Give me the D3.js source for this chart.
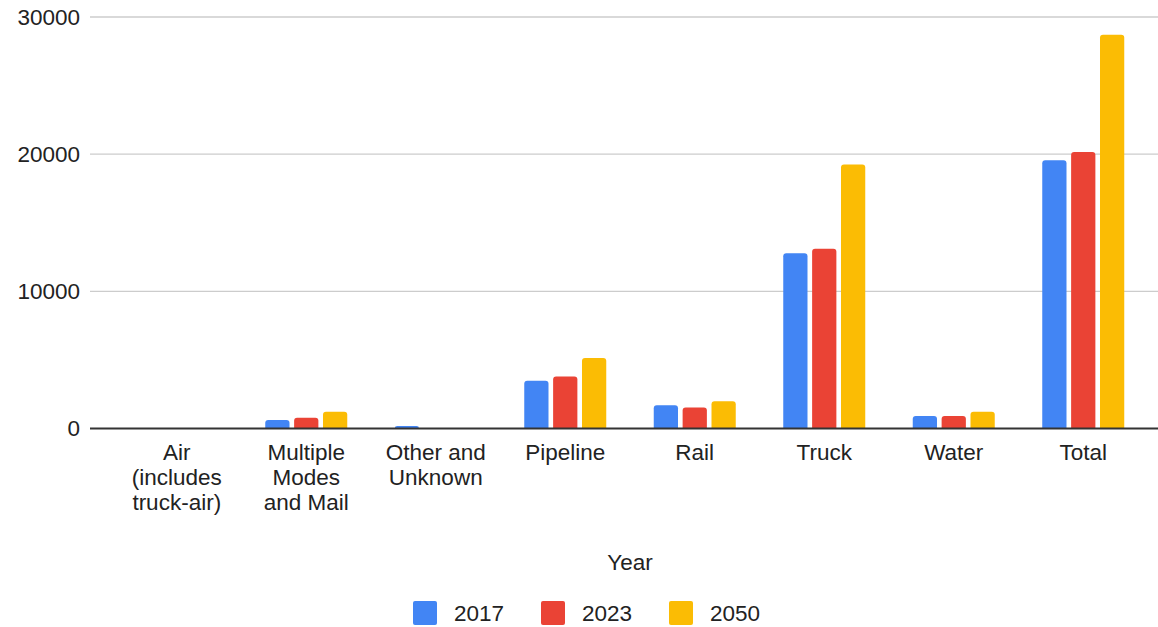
<!DOCTYPE html>
<html>
<head>
<meta charset="utf-8">
<title>Freight by mode</title>
<style>
  body { margin: 0; background: #fff; }
  svg { display: block; font-family: "Liberation Sans", Arial, sans-serif; }
</style>
</head>
<body>
<svg id="chart"></svg>
<script src="https://d3js.org/d3.v7.min.js"></script>
<script>
var categories = [
  ["Air", "(includes", "truck-air)"],
  ["Multiple", "Modes", "and Mail"],
  ["Other and", "Unknown"],
  ["Pipeline"],
  ["Rail"],
  ["Truck"],
  ["Water"],
  ["Total"]
];
var seriesNames = ["2017", "2023", "2050"];
var values2017 = [15, 620, 180, 3490, 1690, 12780, 910, 19550];
var values2023 = [15, 780, 20, 3800, 1540, 13100, 910, 20150];
var values2050 = [20, 1220, 25, 5140, 1990, 19250, 1230, 28700];
var yTicks = [0, 10000, 20000, 30000];
var colors = ["#4285f4", "#ea4335", "#fbbc04"];

var W = 1158, H = 627;
var FS = 22.5;
var svg = d3.select("#chart").attr("width", W).attr("height", H);

var catKeys = categories.map(function (c) { return c.join(" "); });
var allSeries = [values2017, values2023, values2050];

var x = d3.scaleBand().domain(catKeys).range([112, 1148]);
var groupW = 82;
var x1 = d3.scaleBand().domain(seriesNames).range([0, groupW]).paddingInner(0.16);
var y = d3.scaleLinear().domain([0, 30000]).range([428.5, 17]);

// gridlines
svg.append("g").selectAll("line")
  .data(yTicks.filter(function (t) { return t > 0; }))
  .enter().append("line")
  .attr("x1", 90).attr("x2", W)
  .attr("y1", function (d) { return y(d); })
  .attr("y2", function (d) { return y(d); })
  .attr("stroke", "#cccccc").attr("stroke-width", 1.3);

// y tick labels
svg.append("g").selectAll("text")
  .data(yTicks)
  .enter().append("text")
  .attr("x", 80)
  .attr("y", function (d) { return y(d); })
  .attr("dy", "0.35em")
  .attr("text-anchor", "end")
  .attr("font-size", FS)
  .attr("fill", "#222")
  .text(function (d) { return d; });

// bars with rounded tops
function barPath(x0, w, yTop, yBase, r) {
  var h = yBase - yTop;
  r = Math.min(r, h, w / 2);
  return "M" + x0 + "," + yBase +
    "V" + (yTop + r) +
    "Q" + x0 + "," + yTop + " " + (x0 + r) + "," + yTop +
    "H" + (x0 + w - r) +
    "Q" + (x0 + w) + "," + yTop + " " + (x0 + w) + "," + (yTop + r) +
    "V" + yBase + "Z";
}

var offset = (x.bandwidth() - groupW) / 2;
seriesNames.forEach(function (s, si) {
  svg.append("g").selectAll("path")
    .data(allSeries[si])
    .enter().append("path")
    .attr("fill", colors[si])
    .attr("d", function (d, i) {
      var bx = x(catKeys[i]) + offset + x1(s);
      return barPath(bx, x1.bandwidth(), y(d), y(0), 3);
    });
});

// baseline
svg.append("line")
  .attr("x1", 90).attr("x2", W)
  .attr("y1", y(0)).attr("y2", y(0))
  .attr("stroke", "#333").attr("stroke-width", 2);

// category labels
var catG = svg.append("g").selectAll("text")
  .data(categories)
  .enter().append("text")
  .attr("text-anchor", "middle")
  .attr("font-size", FS)
  .attr("fill", "#222");
catG.selectAll("tspan")
  .data(function (d, i) { return d.map(function (line) { return { line: line, key: catKeys[i] }; }); })
  .enter().append("tspan")
  .attr("x", function (d) { return x(d.key) + x.bandwidth() / 2; })
  .attr("y", function (d, j) { return 460 + j * 25; })
  .text(function (d) { return d.line; });

// axis title
svg.append("text")
  .attr("x", 630).attr("y", 570)
  .attr("text-anchor", "middle")
  .attr("font-size", FS)
  .attr("fill", "#222")
  .text("Year");

// legend
var legendX = [413, 541, 669];
var leg = svg.append("g").selectAll("g")
  .data(seriesNames)
  .enter().append("g")
  .attr("transform", function (d, i) { return "translate(" + legendX[i] + ",601)"; });
leg.append("rect")
  .attr("width", 24).attr("height", 24).attr("rx", 2)
  .attr("fill", function (d, i) { return colors[i]; });
leg.append("text")
  .attr("x", 41).attr("y", 12).attr("dy", "0.35em")
  .attr("font-size", FS)
  .attr("fill", "#222")
  .text(function (d) { return d; });
</script>
</body>
</html>
